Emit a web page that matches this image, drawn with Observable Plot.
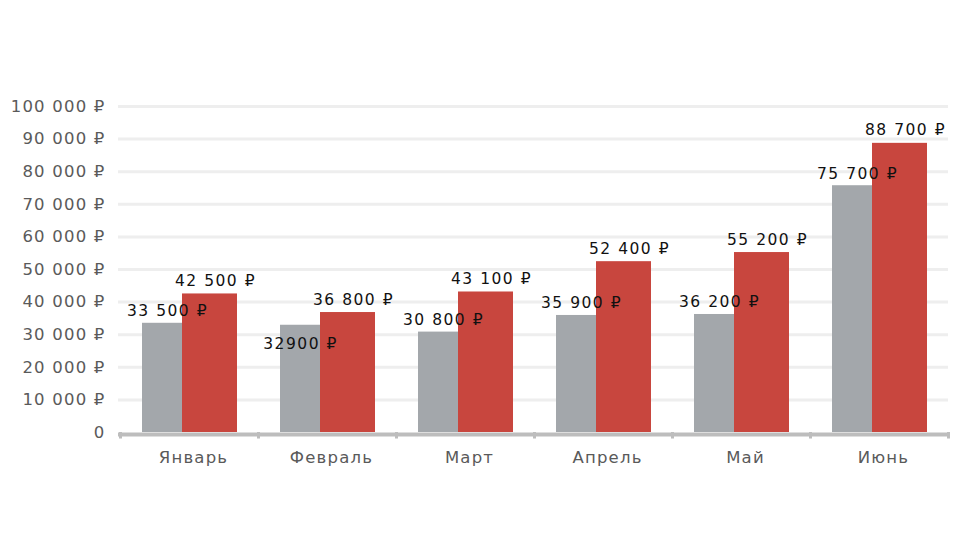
<!DOCTYPE html>
<html>
<head>
<meta charset="utf-8">
<script src="https://cdn.jsdelivr.net/npm/d3@7"></script>
<script src="https://cdn.jsdelivr.net/npm/@observablehq/plot@0.6"></script>
<style>
  html, body { margin: 0; padding: 0; background: #fff; }
  #chart svg { display: block; }
</style>
</head>
<body>
<div id="chart"></div>
<script>
const months = ["Январь", "Февраль", "Март", "Апрель", "Май", "Июнь"];
const grayValues = [33500, 32900, 30800, 35900, 36200, 75700];
const redValues = [42500, 36800, 43100, 52400, 55200, 88700];
const grayLabels = ["33 500 ₽", "32900 ₽", "30 800 ₽", "35 900 ₽", "36 200 ₽", "75 700 ₽"];
const redLabels = ["42 500 ₽", "36 800 ₽", "43 100 ₽", "52 400 ₽", "55 200 ₽", "88 700 ₽"];
const yTicks = [0, 10000, 20000, 30000, 40000, 50000, 60000, 70000, 80000, 90000, 100000];

const gray = months.map((m, i) => ({month: m, value: grayValues[i], label: grayLabels[i]}));
const red = months.map((m, i) => ({month: m, value: redValues[i], label: redLabels[i]}));

const fmt = d3.formatLocale({thousands: " ", grouping: [3], decimal: ","}).format(",");
const yFmt = d => d === 0 ? "0" : fmt(d) + " ₽";

const GRAY = "#a3a7ab";
const RED = "#c8463e";
const FONT = "'DejaVu Sans', 'Noto Sans', sans-serif";

const chart = Plot.plot({
  width: 968,
  height: 544,
  marginLeft: 120,
  marginRight: 20,
  marginTop: 106,
  marginBottom: 112,
  style: {fontFamily: FONT, background: "#fff"},
  x: {domain: months, padding: 0, label: null, tickSize: 0, tickPadding: 19},
  y: {domain: [0, 100000], ticks: yTicks, tickFormat: yFmt, label: null, tickSize: 0, tickPadding: 15},
  marks: [
    Plot.gridY(yTicks.filter(d => d > 0), {stroke: "#eeeeee", strokeOpacity: 1, strokeWidth: 3, insetLeft: -2}),
    Plot.barY(gray, {x: "month", y: "value", fill: GRAY, insetLeft: 22, insetRight: 61}),
    Plot.barY(red, {x: "month", y: "value", fill: RED, insetLeft: 62, insetRight: 21}),
    Plot.ruleY([0], {stroke: "#bdbdbd", strokeWidth: 4, dy: 2, insetLeft: -2}),
    Plot.ruleX(months, {x: d => d, dx: -69, y1: 0, y2: -2000, stroke: "#bdbdbd", strokeWidth: 3}),
    Plot.ruleX(months.slice(-1), {x: d => d, dx: 69, y1: 0, y2: -2000, stroke: "#bdbdbd", strokeWidth: 3}),
    Plot.text(gray.filter(d => d.month !== "Февраль"), {x: "month", y: "value", text: "label", dx: -22, dy: -12, fill: "#111", fontSize: 15.5, textAnchor: "middle", className: "vlabel"}),
    Plot.text(gray.filter(d => d.month === "Февраль"), {x: "month", y: "value", text: "label", dx: -27, dy: 19, fill: "#111", fontSize: 15.5, textAnchor: "middle", className: "vlabel"}),
    Plot.text(red, {x: "month", y: "value", text: "label", dx: 26, dy: -13, fill: "#111", fontSize: 15.5, textAnchor: "middle", className: "vlabel"})
  ]
});

chart.querySelectorAll('[aria-label="x-axis tick label"] text, [aria-label="y-axis tick label"] text').forEach(t => {
  t.setAttribute("fill", "#5a5a5a");
});
chart.querySelectorAll('[aria-label="x-axis tick label"]').forEach(g => {
  g.setAttribute("font-size", 16.5);
  g.setAttribute("letter-spacing", 1.2);
  g.setAttribute("transform", (g.getAttribute("transform") || "") + " translate(4,0)");
});
chart.querySelectorAll('[aria-label="y-axis tick label"]').forEach(g => {
  g.setAttribute("font-size", 16.5);
  g.setAttribute("letter-spacing", 1.2);
});
chart.querySelectorAll('g.vlabel').forEach(g => g.setAttribute("letter-spacing", 1.5));

document.getElementById("chart").appendChild(chart);
</script>
</body>
</html>
